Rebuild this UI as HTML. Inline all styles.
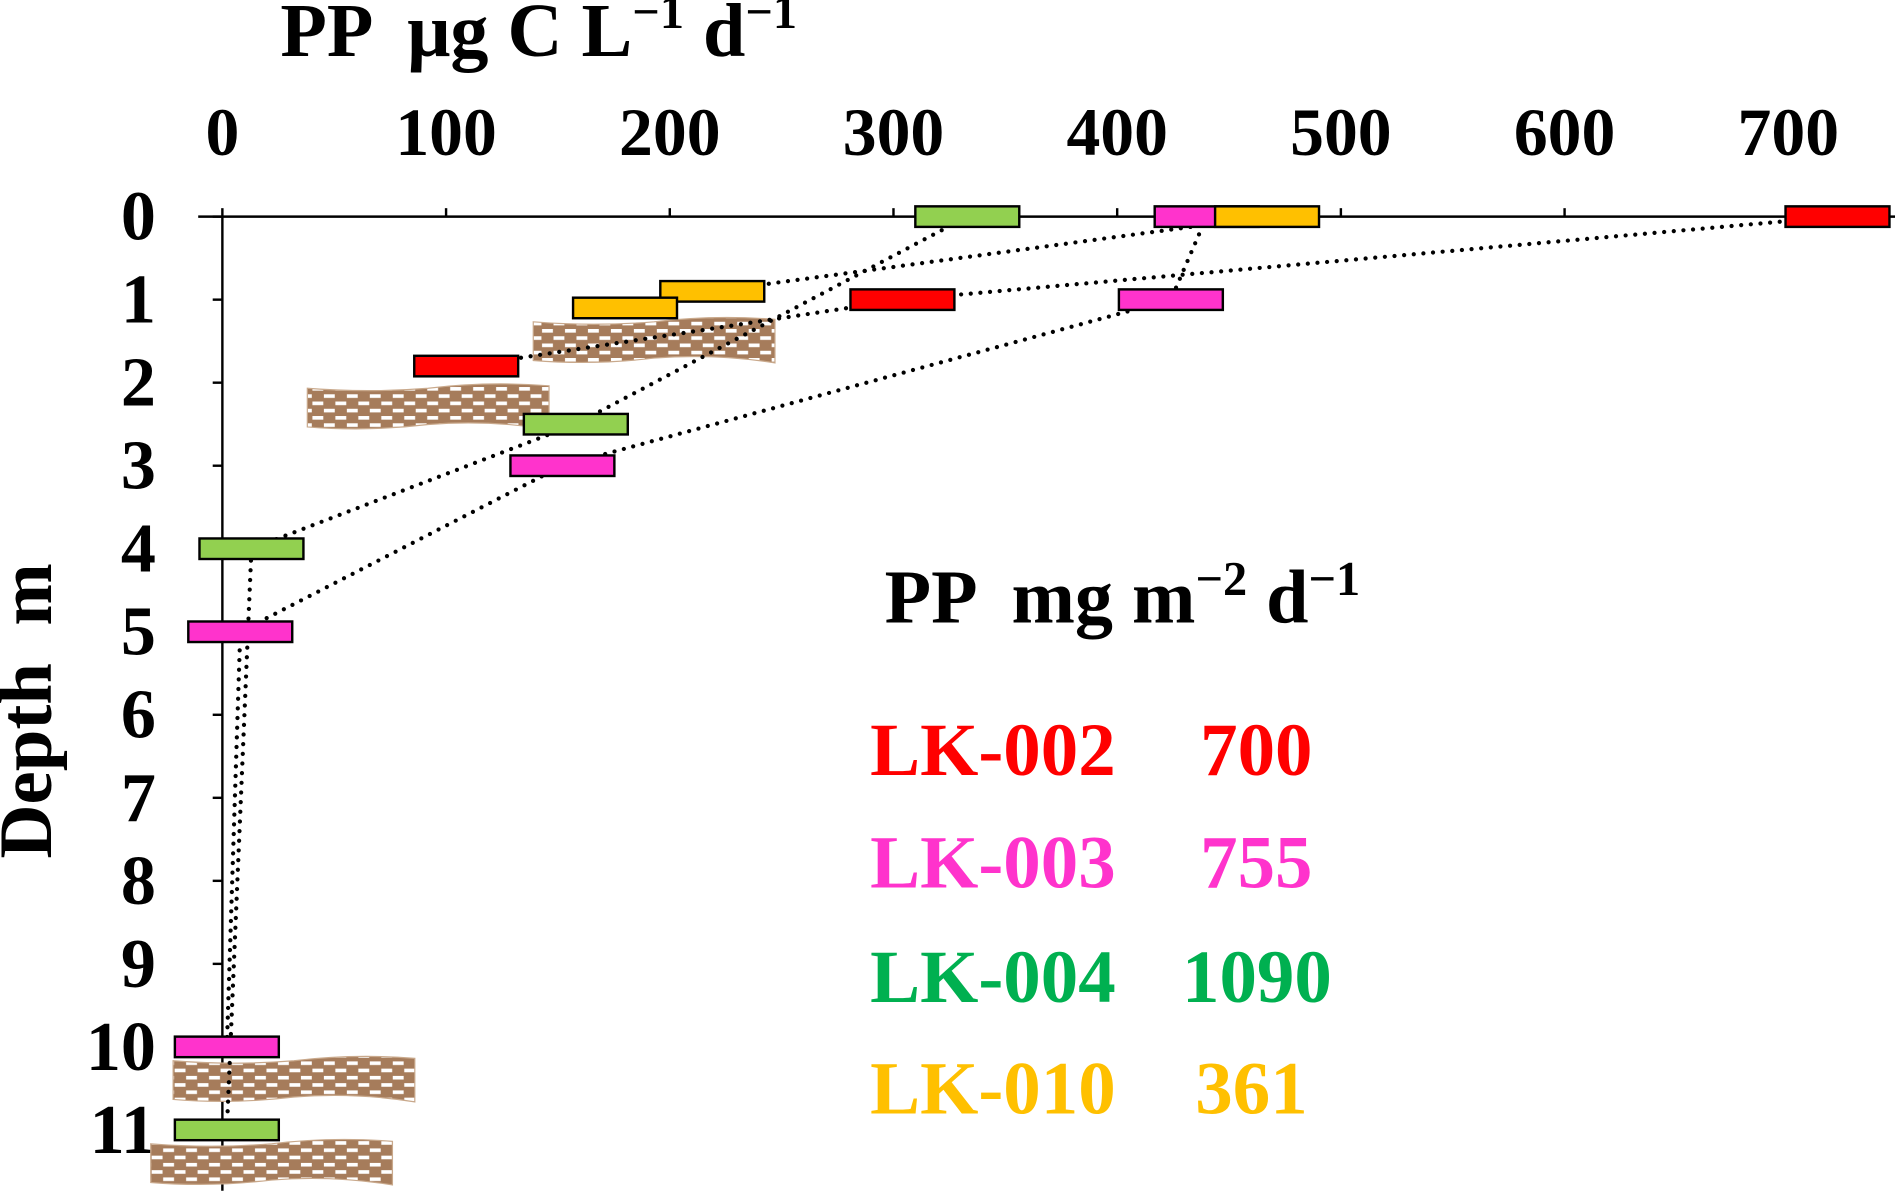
<!DOCTYPE html>
<html><head><meta charset="utf-8"><style>
html,body{margin:0;padding:0;background:#fff;}
svg{display:block;}
text{font-family:"Liberation Serif",serif;font-weight:bold;}
</style></head><body>
<svg width="1895" height="1191" viewBox="0 0 1568 985" xmlns="http://www.w3.org/2000/svg">
<defs>
<pattern id="brick" width="19" height="12" patternUnits="userSpaceOnUse">
<rect width="19" height="12" fill="#a67c5b"/>
<rect x="2" y="2" width="9" height="3" fill="#fff"/>
<rect x="11.5" y="8" width="9" height="3" fill="#fff"/>
<rect x="-7.5" y="8" width="9" height="3" fill="#fff"/>
</pattern>
</defs>
<g id="axes"></g>
<g id="marks"></g>
<text x="232" y="46" font-size="63" xml:space="preserve">PP  μg C L<tspan dy="-23" font-size="40">−1</tspan><tspan dy="23"> d</tspan><tspan dy="-23" font-size="40">−1</tspan></text>
<text transform="translate(42,588) rotate(-90)" text-anchor="middle" font-size="62" xml:space="preserve">Depth  m</text>
<text x="732" y="515" font-size="63" xml:space="preserve">PP  mg m<tspan dy="-23" font-size="40">−2</tspan><tspan dy="23"> d</tspan><tspan dy="-23" font-size="40">−1</tspan></text>
<g font-size="62">
<text x="720" y="641" fill="#ff0000">LK-002</text><text x="1086" y="641" text-anchor="end" fill="#ff0000">700</text>
<text x="720" y="734" fill="#ff33cc">LK-003</text><text x="1086" y="734" text-anchor="end" fill="#ff33cc">755</text>
<text x="720" y="829" fill="#00b050">LK-004</text><text x="1102" y="829" text-anchor="end" fill="#00b050">1090</text>
<text x="720" y="921" fill="#ffc000">LK-010</text><text x="1082" y="921" text-anchor="end" fill="#ffc000">361</text>
</g>
</svg>
<script>
const xTicks=[0,100,200,300,400,500,600,700];
const yTicks=[0,1,2,3,4,5,6,7,8,9,10,11];
const redVals=[722,304,109];
const redDepths=[0,1,1.8];
const pinkVals=[440,424,152,8,2];
const pinkDepths=[0,1,3,5,10];
const greenVals=[333,158,13,2];
const greenDepths=[0,2.5,4,11];
const orangeVals=[467,219,180];
const orangeDepths=[0,0.9,1.1];
const secchiVals=[193,92,32,22];
const secchiDepths=[1.5,2.3,10.4,11.4];

const NS='http://www.w3.org/2000/svg';
const X=v=>184+v*1.851;
const Y=d=>179+d*68.7;
function mk(tag,attrs,parent){const e=document.createElementNS(NS,tag);for(const k in attrs)e.setAttribute(k,attrs[k]);parent.appendChild(e);return e;}
const axes=document.getElementById('axes'),marks=document.getElementById('marks');

let l=mk('line',{x1:164,y1:179,x2:1568,y2:179,stroke:'#000','stroke-width':2},axes);


l=mk('line',{x1:184,y1:179,x2:184,y2:985,stroke:'#000','stroke-width':2},axes);


xTicks.forEach(t=>{
  const tk=mk('line',{x1:X(t),y1:172,x2:X(t),y2:179,stroke:'#000','stroke-width':2},axes);
  
  
  const tx=mk('text',{x:X(t),y:128,'text-anchor':'middle','font-size':56},axes);
  tx.textContent=t;
  
  
});
yTicks.forEach(t=>{
  const tk=mk('line',{x1:176,y1:Y(t),x2:184,y2:Y(t),stroke:'#000','stroke-width':2},axes);
  
  
  const tx=mk('text',{x:129,y:Y(t)+19,'text-anchor':'end','font-size':58},axes);
  tx.textContent=t;
  
  
});

secchiVals.forEach((v,i)=>{
  const cx=X(v),cy=Y(secchiDepths[i]);
  const x0=cx-100,x1=cx+100,y0=cy-16,y1=cy+16;
  const d=`M${x0},${y0} Q${x0+50},${y0+4} ${cx},${y0} Q${cx+50},${y0-6} ${x1},${y0-2} L${x1},${y1+2} Q${cx+50},${y1-6} ${cx},${y1-2} Q${x0+50},${y1+4} ${x0},${y1} Z`;
  const p=mk('path',{d:d,fill:'url(#brick)',stroke:'#c9a98c','stroke-width':1},marks);
  
  
});

const series=[
 ['lk002',redVals,redDepths,'#ff0000'],
 ['lk003',pinkVals,pinkDepths,'#ff33cc'],
 ['lk004',greenVals,greenDepths,'#92d050'],
 ['lk010',orangeVals,orangeDepths,'#ffc000']];
series.forEach(([n,vals,deps])=>{
  const pts=vals.map((v,i)=>X(v)+','+Y(deps[i])).join(' ');
  const pl=mk('polyline',{points:pts,fill:'none',stroke:'#000','stroke-width':3.5,'stroke-dasharray':'0 8','stroke-linecap':'round'},marks);
  
  
});
series.forEach(([n,vals,deps,col])=>{
  vals.forEach((v,i)=>{
    const r=mk('rect',{x:X(v)-43,y:Y(deps[i])-8.5,width:86,height:17,fill:col,stroke:'#000','stroke-width':2},marks);
    
    
  });
});
</script>
</body></html>
